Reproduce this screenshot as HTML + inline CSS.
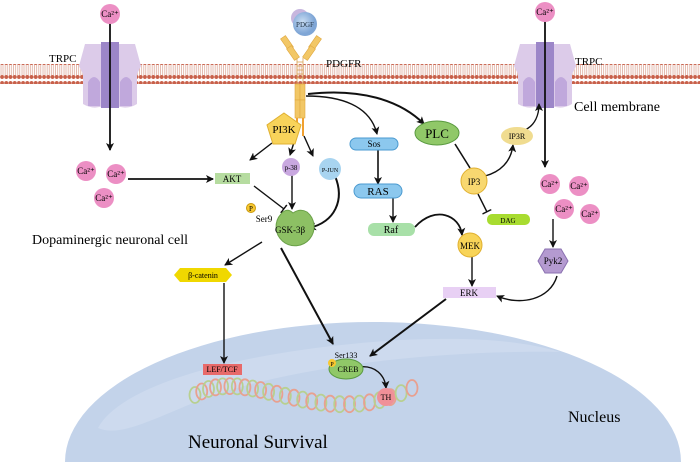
<!DOCTYPE html>
<html><head><meta charset="utf-8"><style>
html,body{margin:0;padding:0;background:#fff;}
svg{display:block;font-family:"Liberation Serif",serif;}
</style></head><body>
<svg id="s" width="700" height="465" viewBox="0 0 700 465" xmlns="http://www.w3.org/2000/svg">
<defs>
<marker id="a" markerWidth="8" markerHeight="8" refX="7" refY="4" orient="auto" markerUnits="userSpaceOnUse"><path d="M0,0 L8,4 L0,8 L2,4z" fill="#111"/></marker>
<marker id="t" markerWidth="2" markerHeight="10" refX="1" refY="5" orient="auto" markerUnits="userSpaceOnUse"><rect x="0" y="0" width="1.5" height="10" fill="#111"/></marker>
<pattern id="mem" width="4.2" height="20" patternUnits="userSpaceOnUse">
<line x1="1" y1="4" x2="1" y2="16" stroke="#d9a090" stroke-width="0.7"/>
<line x1="3" y1="4" x2="3" y2="16" stroke="#d9a090" stroke-width="0.7"/>
<circle cx="2.1" cy="3" r="2" fill="#c8604a"/>
<circle cx="2.1" cy="17" r="2" fill="#c8604a"/>
</pattern>
<radialGradient id="pdgf" cx="0.4" cy="0.4"><stop offset="0" stop-color="#c8dcf2"/><stop offset="1" stop-color="#7fa6d6"/></radialGradient>
<g id="trpc">
<path d="M-25,-20 h18 v62 q-10,4 -20,-2 v-30 l-4,-8 z" fill="#dccbe9"/>
<path d="M25,-20 h-18 v62 q10,4 20,-2 v-30 l4,-8 z" fill="#dccbe9"/>
<rect x="-9" y="-22" width="18" height="66" fill="#9c86c8"/>
<path d="M-22,18 q6,-10 12,0 v24 h-12z" fill="#c0a8dc"/>
<path d="M22,18 q-6,-10 -12,0 v24 h12z" fill="#c0a8dc"/>
</g>
</defs>

<path d="M65,462 A308,140 0 0 1 681,462 Z" fill="#c3d3ea"/>
<path d="M98,428 C120,385 240,350 400,340 C470,337 520,340 560,352 C470,350 330,360 230,390 C170,408 125,440 98,428Z" fill="#cddaee"/>

<rect x="0" y="64" width="700" height="20" fill="url(#mem)"/>

<use href="#trpc" x="110" y="64"/>
<use href="#trpc" x="545" y="64"/>

<g fill="#f2c766" stroke="#e0a840" stroke-width="0.6">
<rect x="284" y="36" width="6" height="14" transform="rotate(-35 287 43)"/>
<rect x="290" y="46" width="6" height="14" transform="rotate(-35 293 53)"/>
<rect x="312" y="36" width="6" height="14" transform="rotate(35 315 43)"/>
<rect x="306" y="46" width="6" height="14" transform="rotate(35 309 53)"/>
<rect x="295" y="84" width="5" height="16"/><rect x="300" y="84" width="5" height="16"/>
<rect x="295" y="100" width="5" height="18"/><rect x="300" y="100" width="5" height="18"/>
</g>
<g stroke="#d9a050" stroke-width="0.8"><line x1="297" y1="58" x2="297" y2="84"/><line x1="303" y1="58" x2="303" y2="84"/>
<line x1="297" y1="62" x2="303" y2="62"/><line x1="297" y1="66" x2="303" y2="66"/><line x1="297" y1="70" x2="303" y2="70"/><line x1="297" y1="74" x2="303" y2="74"/><line x1="297" y1="78" x2="303" y2="78"/></g>
<line x1="297" y1="118" x2="297" y2="136" stroke="#f0a030" stroke-width="2"/>
<line x1="303" y1="118" x2="303" y2="136" stroke="#f0a030" stroke-width="2"/>
<circle cx="300" cy="18" r="9" fill="#c7b6de"/>
<circle cx="305" cy="24" r="12" fill="url(#pdgf)"/>
<text x="305" y="27" font-size="7" text-anchor="middle" fill="#234">PDGF</text>

<g stroke="#111" stroke-width="1.4" fill="none">
<line x1="110" y1="10" x2="110" y2="150" stroke-width="1.8" marker-end="url(#a)"/>
<line x1="545" y1="10" x2="545" y2="167" stroke-width="1.8" marker-end="url(#a)"/>
<line x1="128" y1="179" x2="213" y2="179" stroke-width="1.8" marker-end="url(#a)"/>
<line x1="272" y1="143" x2="250" y2="160" marker-end="url(#a)"/>
<line x1="296" y1="136" x2="290" y2="155" marker-end="url(#a)"/>
<line x1="304" y1="136" x2="313" y2="156" marker-end="url(#a)"/>
<line x1="292" y1="175" x2="292" y2="209" marker-end="url(#a)"/>
<path d="M335,176 C345,200 335,222 309,228" stroke-width="2" marker-end="url(#a)"/>
<line x1="254" y1="186" x2="284" y2="209" marker-end="url(#t)"/>
<path d="M306,96 C340,96 370,105 377,134" marker-end="url(#a)"/>
<path d="M308,94 C360,88 400,100 424,124" stroke-width="2" marker-end="url(#a)"/>
<line x1="378" y1="150" x2="378" y2="184" stroke-width="1.6" marker-end="url(#a)"/>
<line x1="393" y1="198" x2="393" y2="222" marker-end="url(#a)"/>
<path d="M415,227 C435,205 460,215 462,235" stroke-width="1.8" marker-end="url(#a)"/>
<line x1="455" y1="144" x2="470" y2="168" stroke-width="1.6"/>
<path d="M485,176 C500,172 511,162 513,145" marker-end="url(#a)"/>
<path d="M525,130 C535,125 539,115 539,104" marker-end="url(#a)"/>
<line x1="478" y1="194" x2="487" y2="212" marker-end="url(#t)"/>
<line x1="472" y1="257" x2="472" y2="286" marker-end="url(#a)"/>
<line x1="553" y1="219" x2="553" y2="247" marker-end="url(#a)"/>
<path d="M557,276 C550,300 520,306 497,296" marker-end="url(#a)"/>
<line x1="262" y1="242" x2="225" y2="265" marker-end="url(#a)"/>
<line x1="224" y1="283" x2="224" y2="363" marker-end="url(#a)"/>
<line x1="281" y1="248" x2="333" y2="344" stroke-width="2" marker-end="url(#a)"/>
<line x1="446" y1="299" x2="370" y2="356" stroke-width="2" marker-end="url(#a)"/>
<path d="M359,367 C375,365 385,375 386,388" marker-end="url(#a)"/>
</g>

<g id="dna" fill="none" stroke-width="1.8"></g>

<g font-size="9" text-anchor="middle">
<circle cx="110" cy="14" r="10" fill="#ec8fc4"/><text x="110" y="17">Ca²⁺</text>
<circle cx="545" cy="12" r="10" fill="#ec8fc4"/><text x="545" y="15">Ca²⁺</text>
<circle cx="86" cy="171" r="10" fill="#ec8fc4"/><text x="86" y="174">Ca²⁺</text>
<circle cx="116" cy="174" r="10" fill="#ec8fc4"/><text x="116" y="177">Ca²⁺</text>
<circle cx="104" cy="198" r="10" fill="#ec8fc4"/><text x="104" y="201">Ca²⁺</text>
<circle cx="550" cy="184" r="10" fill="#ec8fc4"/><text x="550" y="187">Ca²⁺</text>
<circle cx="579" cy="186" r="10" fill="#ec8fc4"/><text x="579" y="189">Ca²⁺</text>
<circle cx="564" cy="209" r="10" fill="#ec8fc4"/><text x="564" y="212">Ca²⁺</text>
<circle cx="590" cy="214" r="10" fill="#ec8fc4"/><text x="590" y="217">Ca²⁺</text>

<polygon points="284,113 301,125 295,144 273,144 267,125" fill="#f8d35a" stroke="#e0b030"/>
<text x="284" y="133" font-size="11">PI3K</text>
<circle cx="291" cy="167" r="9" fill="#c9a8e0"/><text x="291" y="170" font-size="7">p-38</text>
<circle cx="330" cy="169" r="11" fill="#a8d4f0"/><text x="330" y="172" font-size="6">P-JUN</text>
<rect x="215" y="173" width="35" height="11" fill="#b6dca0"/><text x="232" y="182">AKT</text>
<path d="M281,214 Q287,207 293,213 Q300,208 307,212 A19,19 0 1 1 281,214 Z" fill="#8dc064" stroke="#6aa048"/>
<text x="290" y="233" font-size="9">GSK-3β</text>
<circle cx="251" cy="208" r="4.5" fill="#f8c830" stroke="#c99a10"/><text x="251" y="211" font-size="7">P</text>
<text x="264" y="222" font-size="9">Ser9</text>

<rect x="350" y="138" width="48" height="12" rx="6" fill="#8cc8ee" stroke="#4a9ad0"/><text x="374" y="147">Sos</text>
<rect x="354" y="184" width="48" height="14" rx="7" fill="#8cc8ee" stroke="#4a9ad0"/><text x="378" y="195" font-size="11">RAS</text>
<rect x="368" y="223" width="47" height="13" rx="6" fill="#a8e0a8"/><text x="391" y="233" font-size="10">Raf</text>
<ellipse cx="437" cy="133" rx="22" ry="12" fill="#90c868" stroke="#5a9a40"/><text x="437" y="138" font-size="13">PLC</text>
<circle cx="474" cy="181" r="13" fill="#f8d870" stroke="#e0b030"/><text x="474" y="185" font-size="9">IP3</text>
<ellipse cx="517" cy="136" rx="16" ry="9" fill="#f0dc90"/><text x="517" y="139" font-size="8">IP3R</text>
<rect x="487" y="214" width="43" height="11" rx="5" fill="#a8dc30"/><text x="508" y="223" font-size="7">DAG</text>
<circle cx="470" cy="245" r="12" fill="#f8d458" stroke="#e0b030"/><text x="470" y="249" font-size="9">MEK</text>
<rect x="443" y="287" width="53" height="11" fill="#e8d0f4"/><text x="469" y="296" font-size="9">ERK</text>
<polygon points="545,249 561,249 568,261 561,273 545,273 538,261" fill="#b49ad0" stroke="#8a70b0"/><text x="553" y="264" font-size="9">Pyk2</text>
<polygon points="180,268 226,268 232,275 226,282 180,282 174,275" fill="#f0d800"/><text x="203" y="278" font-size="8">β-catenin</text>
<rect x="203" y="364" width="39" height="11" fill="#e86a6a"/><text x="222" y="372" font-size="8">LEF/TCF</text>
<ellipse cx="346" cy="369" rx="17" ry="10" fill="#90c868" stroke="#5a9a40"/><text x="348" y="372" font-size="8">CREB</text>
<circle cx="332" cy="363" r="4" fill="#f8c830"/><text x="332" y="366" font-size="6">P</text>
<text x="346" y="358" font-size="8">Ser133</text>
</g>

<g font-size="11">
<text x="49" y="62">TRPC</text>
<text x="575" y="65">TRPC</text>
<text x="326" y="67">PDGFR</text>
</g>
<text x="574" y="111" font-size="14">Cell membrane</text>
<text x="32" y="244" font-size="14">Dopaminergic neuronal cell</text>
<text x="568" y="422" font-size="16">Nucleus</text>
<text x="188" y="448" font-size="19">Neuronal Survival</text>
</svg>
<script>
(function(){
var g=document.getElementById('dna'),ns='http://www.w3.org/2000/svg';
var P=[[195,395],[250,362],[320,435],[412,388]];
function b(t,i){var u=1-t;return u*u*u*P[0][i]+3*u*u*t*P[1][i]+3*u*t*t*P[2][i]+t*t*t*P[3][i];}
var n=26;
for(var k=0;k!==n;k++){var t=k/(n-1),x=b(t,0),y=b(t,1);
var e=document.createElementNS(ns,'ellipse');
e.setAttribute('cx',x.toFixed(1));e.setAttribute('cy',y.toFixed(1));
e.setAttribute('rx','5.5');e.setAttribute('ry','8');
e.setAttribute('stroke',k%2?'#e8a090':'#b8d090');
g.appendChild(e);}
var c=document.createElementNS(ns,'circle');
c.setAttribute('cx','386');c.setAttribute('cy','397');c.setAttribute('r','9');c.setAttribute('fill','#f09098');
g.appendChild(c);
var tx=document.createElementNS(ns,'text');
tx.setAttribute('x','386');tx.setAttribute('y','400');tx.setAttribute('font-size','8');tx.setAttribute('text-anchor','middle');tx.setAttribute('fill','#000');tx.setAttribute('stroke','none');
tx.textContent='TH';g.appendChild(tx);
})();
</script>
</body></html>
